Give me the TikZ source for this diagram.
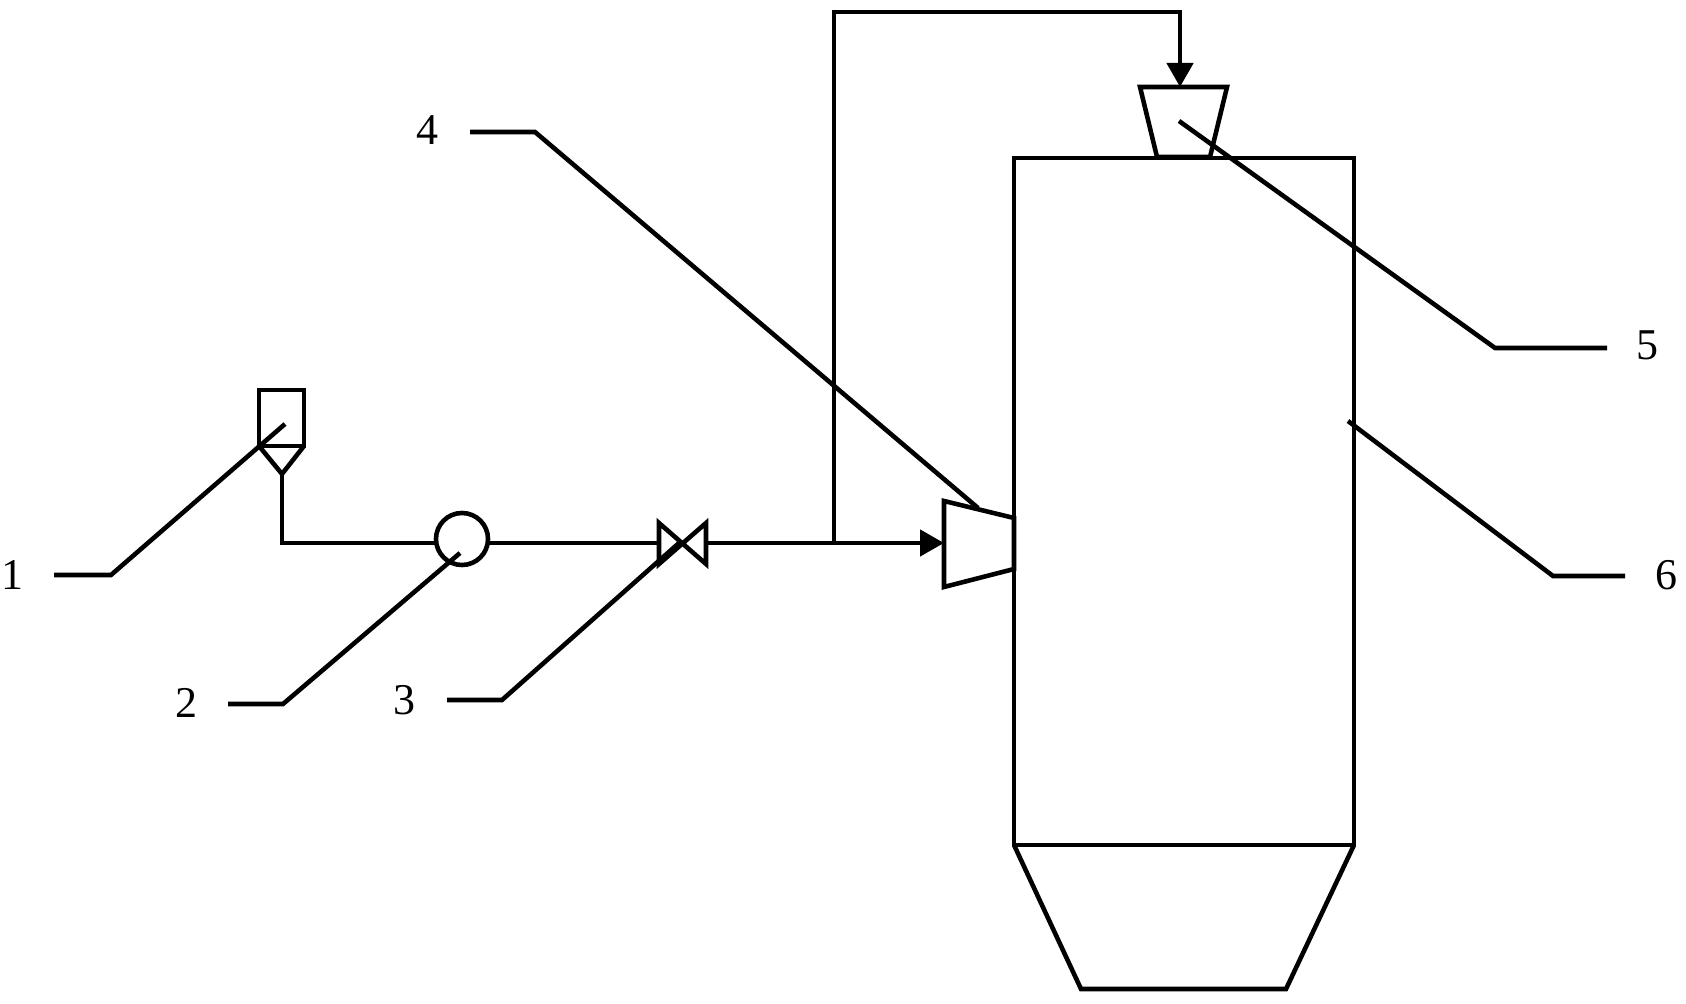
\documentclass[tikz,border=0pt]{standalone}
\usepackage{fontspec}
\setmainfont{Liberation Serif}
\usetikzlibrary{arrows.meta}
\tikzset{
  pipe/.style={line width=1.3pt},
  leader/.style={line width=1.3pt},
  flow/.style={pipe,-{Triangle[length=0.24cm,width=0.26cm]}},
  tag/.style={inner sep=0,font=\fontsize{12.5pt}{14pt}\selectfont}
}
\begin{document}
\begin{tikzpicture}[x=0.01cm,y=-0.01cm]
\useasboundingbox(0,0)rectangle(1686,1004);
% feed hopper
\draw[pipe](259,390)rectangle(304,446);
\draw[pipe](259,446)--(282,474)coordinate(hopperout)--(304,446);
% pump and valve
\node[pipe,circle,draw,inner sep=0,minimum size=0.52cm](pump)at(462,539){};
\coordinate(pumpin)at(437,543);
\coordinate(pumpout)at(488,543);
\coordinate(valvein)at(659,543);
\coordinate(valveout)at(706,543);
\coordinate(branch)at(834,543);
\draw[pipe,line join=miter](hopperout)|-(pumpin);
\draw[pipe](pumpout)--(valvein);
\draw[pipe](valvein)--++(0,-20)--(706,564)--++(0,-41)--(659,564)--cycle;
\draw[pipe](valveout)--(branch);
% nozzles
\draw[pipe](1014,518)--(944,501)--(944,587)--(1014,569)--cycle;
\coordinate(sidenozzle)at(944,543);
\draw[pipe](1140,87)--(1227,87)--(1210,157)--(1157,157)--cycle;
\coordinate(topnozzle)at(1180,87);
\draw[flow](branch)--(sidenozzle);
\draw[flow](branch)|-(1180,12)--(topnozzle);
% vessel
\draw[pipe](1014,158)rectangle(1354,845);
\draw[pipe](1014,845)--(1081,989)--(1286,989)--(1354,845);
% labels
\node[tag](n1)at(12,575){1};
\node[tag](n2)at(186,703){2};
\node[tag](n3)at(404,700){3};
\node[tag](n4)at(427,130){4};
\node[tag](n5)at(1647,345){5};
\node[tag](n6)at(1666,575){6};
\draw[leader](54,575)--++(57,0)--(285,424);
\draw[leader](228,704)--++(55,0)--(460,553);
\draw[leader](447,700)--++(55,0)--(679,543);
\draw[leader](470,132)--++(65,0)--(978,508);
\draw[leader](1607,348)--++(-112,0)--(1179,121);
\draw[leader](1625,576)--++(-72,0)--(1348,421);
\end{tikzpicture}
\end{document}
